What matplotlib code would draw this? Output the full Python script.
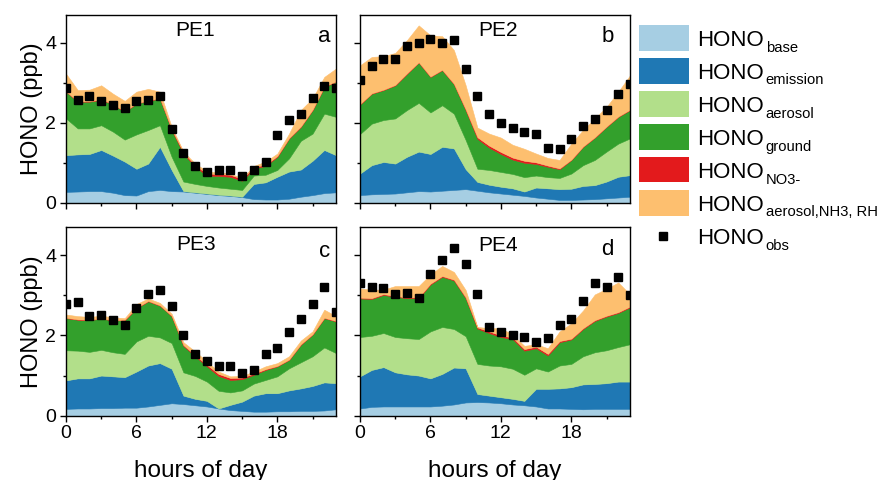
import matplotlib
matplotlib.use("Agg")
import matplotlib.pyplot as plt
from matplotlib.patches import Rectangle
from matplotlib.lines import Line2D
from matplotlib.ticker import MultipleLocator

plt.rcParams['font.family'] = ['Liberation Sans', 'DejaVu Sans']

# ---------------- data (cumulative tops of stacked contributions, ppb) ----------------
hours = list(range(24))

pe1_base = [0.27,0.28,0.29,0.29,0.25,0.19,0.18,0.29,0.32,0.29,0.28,0.25,0.22,0.19,0.17,0.14,0.09,0.08,0.08,0.10,0.15,0.19,0.24,0.26]
pe1_emission = [1.19,1.21,1.22,1.32,1.18,1.03,0.85,0.98,1.40,0.82,0.29,0.26,0.23,0.20,0.18,0.15,0.47,0.51,0.65,0.78,0.83,1.05,1.32,1.19]
pe1_aerosol = [2.11,1.86,1.86,1.94,1.78,1.58,1.71,1.82,1.94,1.15,0.53,0.47,0.42,0.38,0.35,0.32,0.68,0.70,0.82,1.11,1.55,1.73,2.23,2.15]
pe1_ground = [2.78,2.53,2.53,2.58,2.46,2.28,2.48,2.55,2.61,1.82,1.23,0.90,0.68,0.67,0.65,0.55,0.86,0.92,1.15,1.61,1.90,2.32,2.90,3.03]
pe1_no3 = [2.79,2.54,2.54,2.59,2.47,2.29,2.49,2.56,2.62,1.84,1.26,0.94,0.73,0.72,0.70,0.60,0.90,0.95,1.17,1.62,1.91,2.33,2.91,3.04]
pe1_nh3rh = [3.23,2.82,2.83,2.94,2.73,2.55,2.78,2.85,2.78,1.90,1.28,0.98,0.79,0.75,0.73,0.61,0.92,1.03,1.23,1.73,2.32,2.61,3.15,3.36]
pe1_obs = [2.86,2.58,2.67,2.54,2.44,2.36,2.54,2.57,2.68,1.84,1.25,0.92,0.76,0.82,0.83,0.68,0.81,1.03,1.69,2.08,2.22,2.63,2.93,2.87]

pe2_base = [0.19,0.21,0.22,0.23,0.26,0.29,0.28,0.30,0.32,0.34,0.30,0.26,0.23,0.20,0.17,0.13,0.10,0.07,0.07,0.08,0.09,0.11,0.13,0.15]
pe2_emission = [0.73,0.94,1.02,0.98,1.15,1.28,1.22,1.40,1.36,0.84,0.52,0.45,0.40,0.36,0.28,0.38,0.36,0.34,0.35,0.42,0.44,0.53,0.65,0.69]
pe2_aerosol = [1.72,1.98,2.07,2.11,2.32,2.50,2.26,2.44,2.23,1.57,0.85,0.82,0.77,0.72,0.64,0.68,0.64,0.62,0.73,0.94,1.07,1.28,1.48,1.61]
pe2_ground = [2.46,2.73,2.82,2.94,3.23,3.51,3.15,3.32,2.97,2.32,1.60,1.38,1.22,1.08,1.00,0.97,0.90,0.84,1.07,1.40,1.63,1.90,2.15,2.32]
pe2_no3 = [2.47,2.74,2.83,2.95,3.24,3.52,3.16,3.33,2.98,2.34,1.64,1.43,1.27,1.13,1.05,1.01,0.93,0.86,1.08,1.41,1.64,1.91,2.16,2.33]
pe2_nh3rh = [3.44,3.65,3.67,3.75,4.07,4.44,4.19,4.17,3.82,2.94,1.88,1.73,1.63,1.45,1.35,1.23,1.12,1.07,1.48,1.82,2.11,2.40,2.78,3.19]
pe2_obs = [3.08,3.42,3.61,3.61,3.93,4.01,4.11,4.00,4.07,3.36,2.68,2.23,2.00,1.88,1.77,1.71,1.38,1.34,1.59,1.93,2.10,2.33,2.71,2.96]

pe3_base = [0.17,0.18,0.18,0.19,0.19,0.20,0.20,0.23,0.27,0.31,0.29,0.26,0.23,0.18,0.14,0.12,0.10,0.10,0.11,0.11,0.12,0.12,0.13,0.16]
pe3_emission = [0.88,0.93,0.93,1.00,0.98,0.96,1.10,1.25,1.31,1.17,0.50,0.42,0.37,0.18,0.27,0.35,0.50,0.56,0.56,0.63,0.68,0.74,0.83,0.81]
pe3_aerosol = [1.63,1.62,1.59,1.64,1.58,1.54,1.85,1.99,1.95,1.81,1.08,0.99,0.85,0.62,0.58,0.63,0.80,0.89,0.98,1.18,1.33,1.48,1.70,1.56]
pe3_ground = [2.43,2.39,2.38,2.42,2.37,2.38,2.68,2.85,2.74,2.48,1.74,1.48,1.23,0.99,0.89,0.91,1.02,1.14,1.23,1.39,1.77,2.02,2.43,2.35]
pe3_no3 = [2.44,2.40,2.39,2.43,2.38,2.39,2.69,2.86,2.75,2.49,1.76,1.51,1.27,1.04,0.94,0.95,1.05,1.16,1.24,1.40,1.78,2.03,2.44,2.36]
pe3_nh3rh = [2.52,2.48,2.46,2.49,2.45,2.43,2.78,2.92,2.81,2.54,1.83,1.60,1.35,1.10,0.98,0.99,1.10,1.23,1.31,1.48,1.87,2.10,2.64,2.48]
pe3_obs = [2.78,2.82,2.48,2.51,2.38,2.27,2.69,3.02,3.13,2.73,2.02,1.53,1.36,1.23,1.23,1.06,1.13,1.53,1.68,2.08,2.42,2.79,3.20,2.58]

pe4_base = [0.18,0.22,0.23,0.23,0.23,0.23,0.23,0.25,0.28,0.33,0.34,0.33,0.31,0.28,0.26,0.23,0.18,0.18,0.17,0.16,0.17,0.17,0.17,0.17]
pe4_emission = [0.98,1.14,1.21,1.08,1.03,1.00,0.93,1.04,1.20,1.18,0.54,0.50,0.46,0.42,0.37,0.67,0.67,0.68,0.71,0.78,0.79,0.81,0.85,0.85]
pe4_aerosol = [1.96,1.99,2.06,1.96,1.93,1.91,2.10,2.21,2.16,1.98,1.29,1.25,1.23,1.17,1.02,1.18,1.10,1.25,1.29,1.48,1.58,1.63,1.71,1.78]
pe4_ground = [2.92,2.91,3.01,2.96,2.93,2.93,3.27,3.46,3.37,2.93,2.17,2.06,1.96,1.91,1.62,1.68,1.50,1.83,1.90,2.16,2.36,2.47,2.56,2.70]
pe4_no3 = [2.94,2.93,3.03,2.98,2.95,2.95,3.29,3.48,3.39,2.95,2.20,2.10,2.00,1.95,1.66,1.72,1.54,1.86,1.92,2.18,2.38,2.49,2.58,2.72]
pe4_nh3rh = [3.17,3.14,3.14,3.23,3.23,3.23,3.52,3.73,3.58,3.13,2.21,2.18,2.18,2.02,1.74,1.78,1.68,2.10,2.30,2.62,3.02,3.16,3.32,3.02]
pe4_obs = [3.31,3.20,3.18,3.03,3.05,2.92,3.54,3.88,4.18,3.77,3.04,2.20,2.09,2.00,1.97,1.83,1.93,2.26,2.41,2.85,3.31,3.20,3.46,3.01]

panel_names = ["PE1", "PE2", "PE3", "PE4"]
panel_letters = ["a", "b", "c", "d"]
legend_main = "HONO"
legend_subs = ["base", "emission", "aerosol", "ground", "NO3-", "aerosol,NH3, RH", "obs"]
layer_colors = ["#a6cee3", "#1f78b4", "#b2df8a", "#33a02c", "#e31a1c", "#fdbf6f"]
xtick_vals = [0, 6, 12, 18]
ytick_vals = [0, 2, 4]

panels = [
    [pe1_base, pe1_emission, pe1_aerosol, pe1_ground, pe1_no3, pe1_nh3rh, pe1_obs],
    [pe2_base, pe2_emission, pe2_aerosol, pe2_ground, pe2_no3, pe2_nh3rh, pe2_obs],
    [pe3_base, pe3_emission, pe3_aerosol, pe3_ground, pe3_no3, pe3_nh3rh, pe3_obs],
    [pe4_base, pe4_emission, pe4_aerosol, pe4_ground, pe4_no3, pe4_nh3rh, pe4_obs],
]

W, H = 877, 480
fig = plt.figure(figsize=(W / 100, H / 100), dpi=100)

def px_rect(x0, y0, x1, y1):
    return [x0 / W, 1 - y1 / H, (x1 - x0) / W, (y1 - y0) / H]

rects = [px_rect(66, 15, 336, 202.7), px_rect(360, 15, 630, 202.7),
         px_rect(66, 227, 336, 415.7), px_rect(360, 227, 630, 415.7)]
title_pos = [(0.479, 0.888), (0.511, 0.888), (0.481, 0.878), (0.511, 0.874)]
letter_pos = [(0.955, 0.855), (0.917, 0.855), (0.957, 0.839), (0.917, 0.852)]

for i, (rect, data) in enumerate(zip(rects, panels)):
    ax = fig.add_axes(rect)
    lower = [0] * len(hours)
    for top, col in zip(data[:6], layer_colors):
        ax.fill_between(hours, lower, top, facecolor=col, edgecolor=col, linewidth=0.4)
        lower = top
    ax.plot(hours, data[6], linestyle='none', marker='s', markersize=5.8,
            color='black', zorder=5)
    ax.set_xlim(0, 23)
    ax.set_ylim(0, 4.7)
    ax.set_xticks(xtick_vals)
    ax.xaxis.set_minor_locator(MultipleLocator(3))
    ax.set_yticks(ytick_vals)
    ax.yaxis.set_minor_locator(MultipleLocator(1))
    ax.tick_params(which='major', direction='out', length=4, width=1, labelsize=14, pad=3)
    ax.tick_params(which='minor', direction='out', length=2.5, width=1)
    for s in ax.spines.values():
        s.set_linewidth(1.0)
        s.set_color('black')
    if i < 2:
        ax.tick_params(labelbottom=False)
    else:
        ax.set_xlabel("hours of day", fontsize=17.5, labelpad=13)
    if i % 2 == 1:
        ax.tick_params(labelleft=False)
    else:
        ax.set_ylabel("HONO (ppb)", fontsize=17)
        ax.yaxis.set_label_coords(-0.085, 0.5)
    ax.text(title_pos[i][0], title_pos[i][1], panel_names[i], transform=ax.transAxes,
            ha='center', va='baseline', fontsize=15)
    ax.text(letter_pos[i][0], letter_pos[i][1], panel_letters[i], transform=ax.transAxes,
            ha='center', va='baseline', fontsize=16)

# ---------------- legend (drawn manually) ----------------
row_y0 = 38.0
row_dy = 33.0
fig.canvas.draw()
renderer = fig.canvas.get_renderer()
for k in range(7):
    yc = row_y0 + k * row_dy
    if k < 6:
        fig.add_artist(Rectangle((639 / W, 1 - (yc + 12.5) / H), 50 / W, 25 / H,
                                 transform=fig.transFigure, facecolor=layer_colors[k],
                                 edgecolor='none'))
    else:
        fig.add_artist(Line2D([663 / W], [1 - yc / H], transform=fig.transFigure,
                              marker='s', markersize=5.2, color='black', linestyle='none'))
    base_y = yc + 8
    t = fig.text(697 / W, 1 - base_y / H, legend_main, fontsize=16, ha='left',
                 va='baseline')
    bb = t.get_window_extent(renderer)
    fig.text((bb.x1 + 2) / W, 1 - (base_y + 5.5) / H, legend_subs[k], fontsize=10.6,
             ha='left', va='baseline')

fig.savefig("out.png", dpi=100)
